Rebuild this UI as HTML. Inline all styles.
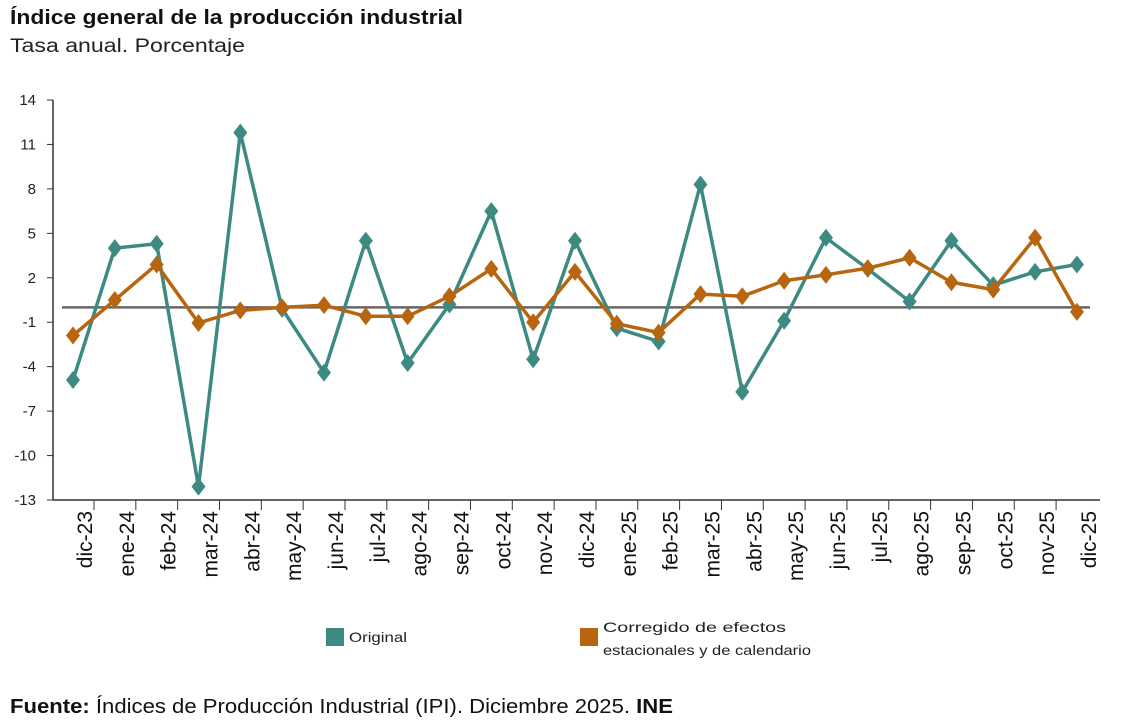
<!DOCTYPE html>
<html><head><meta charset="utf-8"><style>
body{margin:0;background:#fff;font-family:"Liberation Sans",sans-serif;}
svg{display:block}
</style></head><body>
<svg width="1122" height="725">
<text x="10" y="24" font-size="20" font-weight="bold" fill="#111" textLength="453" lengthAdjust="spacingAndGlyphs">Índice general de la producción industrial</text>
<text x="10" y="52" font-size="19" fill="#222" textLength="235" lengthAdjust="spacingAndGlyphs">Tasa anual. Porcentaje</text>
<g id="axes"></g>
<g id="marks"></g>
<g>
<rect x="326" y="628" width="18" height="18" fill="#3d8a82"/>
<text x="349" y="642" font-size="14" fill="#222" textLength="58" lengthAdjust="spacingAndGlyphs">Original</text>
<rect x="580" y="628" width="18" height="18" fill="#b8650f"/>
<text x="603" y="632" font-size="14" fill="#222" textLength="183" lengthAdjust="spacingAndGlyphs">Corregido de efectos</text>
<text x="603" y="655" font-size="14" fill="#222" textLength="208" lengthAdjust="spacingAndGlyphs">estacionales y de calendario</text>
</g>
<text x="10" y="713" font-size="20" fill="#111" textLength="663" lengthAdjust="spacingAndGlyphs"><tspan font-weight="bold">Fuente:</tspan> Índices de Producción Industrial (IPI). Diciembre 2025. <tspan font-weight="bold">INE</tspan></text>
</svg>
<script>
const categories=["dic-23","ene-24","feb-24","mar-24","abr-24","may-24","jun-24","jul-24","ago-24","sep-24","oct-24","nov-24","dic-24","ene-25","feb-25","mar-25","abr-25","may-25","jun-25","jul-25","ago-25","sep-25","oct-25","nov-25","dic-25"];
const original=[-4.9,4.0,4.3,-12.1,11.8,-0.1,-4.4,4.5,-3.75,0.2,6.5,-3.5,4.5,-1.4,-2.3,8.3,-5.7,-0.9,4.7,2.6,0.4,4.5,1.5,2.4,2.9];
const corregido=[-1.9,0.5,2.9,-1.05,-0.2,0.0,0.15,-0.6,-0.6,0.75,2.6,-1.0,2.4,-1.1,-1.7,0.9,0.75,1.8,2.2,2.65,3.35,1.7,1.2,4.7,-0.3];
const yTicks=[14,11,8,5,2,-1,-4,-7,-10,-13];
const NS="http://www.w3.org/2000/svg";
const y=v=>100+(14-v)*(400/27);
const x=i=>73+i*41.83;
const axes=document.getElementById('axes'),marks=document.getElementById('marks');
function mk(tag,attrs,parent){const e=document.createElementNS(NS,tag);for(const k in attrs)e.setAttribute(k,attrs[k]);parent.appendChild(e);return e;}
let e=mk('line',{x1:53,y1:100,x2:53,y2:500,stroke:'#333','stroke-width':1.5},axes);


e=mk('line',{x1:53,y1:500,x2:1100,y2:500,stroke:'#333','stroke-width':1.5},axes);


yTicks.forEach(t=>{
 mk('line',{x1:47,y1:y(t),x2:53,y2:y(t),stroke:'#333'},axes);
 const tx=mk('text',{x:36,y:y(t)+5,'font-size':15,'text-anchor':'end',fill:'#222'},axes);
 tx.textContent=t;
 
 
});
categories.forEach((c,i)=>{
 const bx=x(i)+21;
 if(i<categories.length-1) mk('line',{x1:bx,y1:500,x2:bx,y2:510,stroke:'#333'},axes);
 const tx=mk('text',{x:0,y:0,'font-size':21,'text-anchor':'end',fill:'#111',transform:`translate(${x(i)+19},511) rotate(-90)`},axes);
 tx.textContent=c;
 
 
});
e=mk('line',{x1:62,y1:y(0),x2:1090,y2:y(0),stroke:'#666','stroke-width':2.5},axes);


function series(vals,color,name){
 const p=mk('polyline',{points:vals.map((v,i)=>x(i)+','+y(v)).join(' '),fill:'none',stroke:color,'stroke-width':3.5,'stroke-linejoin':'round'},marks);
 
 
 vals.forEach((v,i)=>{
  const cx=x(i),cy=y(v);
  const d=mk('polygon',{points:`${cx},${cy-9} ${cx+7},${cy} ${cx},${cy+9} ${cx-7},${cy}`,fill:color},marks);
  
  
 });
}
series(original,'#3d8a82','original');
series(corregido,'#b8650f','corregido');
</script>
</body></html>
